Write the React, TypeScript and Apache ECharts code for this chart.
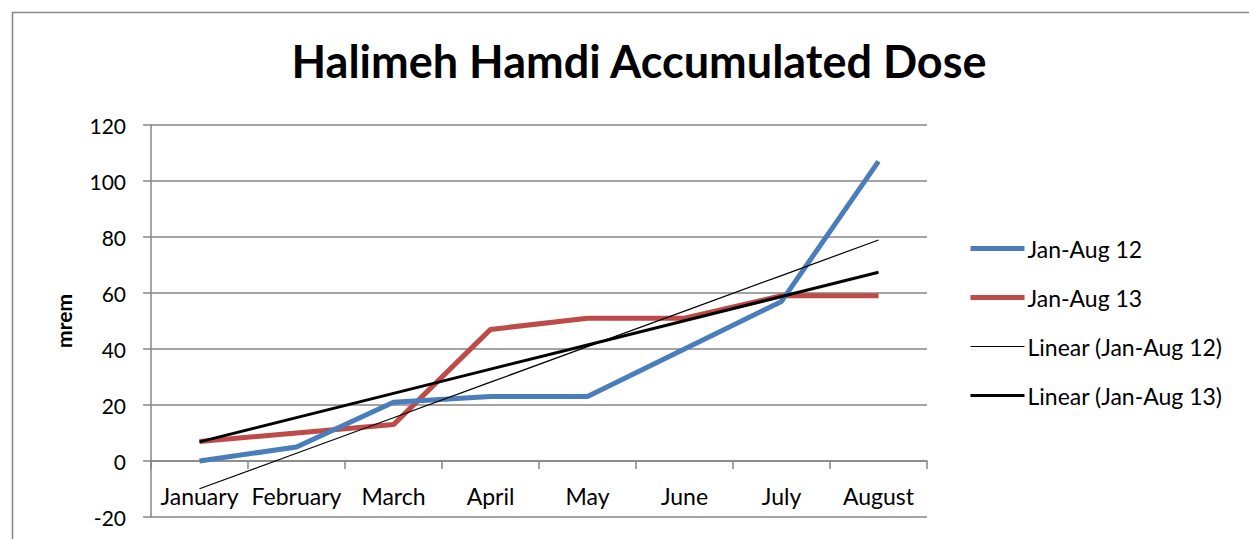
import React, { useEffect, useRef } from "react";
import * as echarts from "echarts";

const categories = ["January", "February", "March", "April", "May", "June", "July", "August"];
const dose2012 = [0, 5, 21, 23, 23, 40, 57, 107];
const dose2013 = [7, 10, 13, 47, 51, 51, 59, 59];
const yTicks = { min: -20, max: 120, interval: 20 };

function linearTrend(values: number[]): number[] {
  const n = values.length;
  const xs = values.map((_, i) => i + 1);
  const mx = xs.reduce((a, b) => a + b, 0) / n;
  const my = values.reduce((a, b) => a + b, 0) / n;
  let sxy = 0;
  let sxx = 0;
  for (let i = 0; i < n; i++) {
    sxy += (xs[i] - mx) * (values[i] - my);
    sxx += (xs[i] - mx) * (xs[i] - mx);
  }
  const slope = sxy / sxx;
  return xs.map((x) => +(my + slope * (x - mx)).toFixed(3));
}

const FONT = "Lato, 'Open Sans', sans-serif";

export default function App() {
  const ref = useRef<HTMLDivElement>(null);
  useEffect(() => {
    document.body.style.margin = "0";
    const chart = echarts.init(ref.current!, undefined, { renderer: "svg" });
    chart.setOption({
      animation: false,
      backgroundColor: "#ffffff",
      textStyle: { fontFamily: FONT, color: "#000" },
      title: {
        text: "Halimeh Hamdi Accumulated Dose",
        left: 634,
        top: 33,
        textAlign: "center",
        textStyle: { fontFamily: FONT, fontSize: 45, fontWeight: "bold", color: "#000" },
      },
      graphic: [
        {
          type: "polyline",
          shape: { points: [[12.5, 700], [12.5, 12.5], [1260, 12.5]] },
          style: { stroke: "#868686", lineWidth: 1.5, fill: "none" },
          silent: true,
        },
      ],
      legend: {
        orient: "vertical",
        left: 968,
        top: 237,
        padding: 0,
        itemWidth: 54,
        itemHeight: 22,
        itemGap: 26,
        itemStyle: { opacity: 0 },
        lineStyle: { width: "inherit" },
        textStyle: { fontFamily: FONT, fontSize: 23, color: "#000", padding: [0, 0, 0, -2] },
        data: ["Jan-Aug 12", "Jan-Aug 13", "Linear (Jan-Aug 12)", "Linear (Jan-Aug 13)"],
      },
      grid: { left: 151, right: 322, top: 125, bottom: 22, containLabel: false, outerBoundsMode: "none" },
      xAxis: {
        type: "category",
        data: categories,
        boundaryGap: true,
        axisLine: { onZero: true, lineStyle: { color: "#868686", width: 1.5 } },
        axisTick: { show: true, length: 8, alignWithLabel: false, lineStyle: { color: "#868686", width: 1.5 } },
        axisLabel: { fontFamily: FONT, fontSize: 23, color: "#000", margin: -33, interval: 0 },
        splitLine: { show: false },
      },
      yAxis: {
        type: "value",
        min: yTicks.min,
        max: yTicks.max,
        interval: yTicks.interval,
        name: "mrem",
        nameLocation: "middle",
        nameGap: 77,
        nameTextStyle: { fontFamily: FONT, fontSize: 21, fontWeight: "bold", color: "#000" },
        axisLine: { show: true, lineStyle: { color: "#868686", width: 1.5 } },
        axisTick: { show: true, length: 8, inside: false, lineStyle: { color: "#868686", width: 1.5 } },
        axisLabel: { fontFamily: FONT, fontSize: 21, color: "#000", margin: 25 },
        splitLine: { show: true, lineStyle: { color: "#868686", width: 1.5 } },
      },
      series: [
        {
          name: "Jan-Aug 12",
          type: "line",
          data: dose2012,
          symbol: "none",
          lineStyle: { color: "#4A7EBB", width: 5 },
          itemStyle: { color: "#4A7EBB" },
          z: 3,
        },
        {
          name: "Jan-Aug 13",
          type: "line",
          data: dose2013,
          symbol: "none",
          lineStyle: { color: "#BE4B48", width: 5 },
          itemStyle: { color: "#BE4B48" },
          z: 2,
        },
        {
          name: "Linear (Jan-Aug 12)",
          type: "line",
          data: linearTrend(dose2012),
          symbol: "none",
          lineStyle: { color: "#000", width: 1.2 },
          itemStyle: { color: "#000" },
          z: 4,
        },
        {
          name: "Linear (Jan-Aug 13)",
          type: "line",
          data: linearTrend(dose2013),
          symbol: "none",
          lineStyle: { color: "#000", width: 3 },
          itemStyle: { color: "#000" },
          z: 4,
        },
      ],
    });
    return () => chart.dispose();
  }, []);
  return <div ref={ref} style={{ width: 1249, height: 539 }} />;
}
